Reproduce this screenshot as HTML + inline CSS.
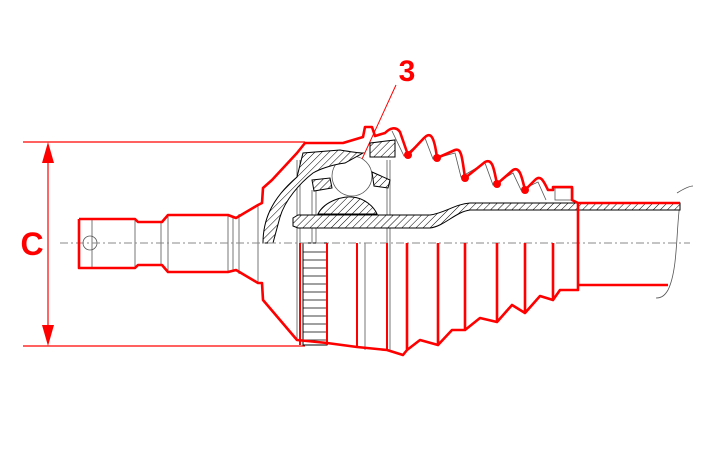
<!DOCTYPE html>
<html><head><meta charset="utf-8"><style>
html,body{margin:0;padding:0;background:#fff;}
svg{display:block;}
</style></head><body>
<svg width="705" height="470" viewBox="0 0 705 470" xmlns="http://www.w3.org/2000/svg">
<defs>
<pattern id="h" patternUnits="userSpaceOnUse" width="5" height="5" patternTransform="rotate(45)">
<rect width="5" height="5" fill="#fff"/><line x1="0" y1="0" x2="0" y2="5" stroke="#000" stroke-width="1"/>
</pattern>
</defs>
<g stroke="#f00" stroke-width="1.2" fill="none">
<line x1="23" y1="142" x2="305" y2="142"/>
<line x1="23" y1="346" x2="305" y2="346"/>
<line x1="48" y1="150" x2="48" y2="338"/>
</g>
<polygon points="48,142 42,163 54,163" fill="#f00"/>
<polygon points="48,346 42,325 54,325" fill="#f00"/>
<text x="32" y="255" font-family="Liberation Sans, sans-serif" font-weight="bold" font-size="32" fill="#f00" text-anchor="middle">C</text>
<text x="407" y="81" font-family="Liberation Sans, sans-serif" font-weight="bold" font-size="30" fill="#f00" text-anchor="middle">3</text>
<line x1="396" y1="85" x2="357" y2="170" stroke="#f00" stroke-width="1"/>

<g stroke="#555" stroke-width="0.8" fill="none">
<line x1="92" y1="220" x2="92" y2="267"/><line x1="135" y1="220" x2="135" y2="268"/>
<line x1="161" y1="223" x2="161" y2="265"/><line x1="168" y1="216" x2="168" y2="272"/>
<line x1="228" y1="216" x2="228" y2="272"/><line x1="233" y1="216" x2="233" y2="272"/>
<line x1="239" y1="214" x2="239" y2="274"/><line x1="258" y1="205" x2="258" y2="283"/>
<circle cx="90" cy="243" r="7"/>
<line x1="297" y1="160" x2="297" y2="340"/><line x1="300" y1="160" x2="300" y2="340"/>
<line x1="357" y1="243" x2="357" y2="347"/><line x1="365" y1="243" x2="365" y2="350"/>
<line x1="387" y1="160" x2="387" y2="350"/><line x1="390" y1="160" x2="390" y2="352"/>
<line x1="312" y1="190" x2="312" y2="243"/><line x1="316" y1="190" x2="316" y2="243"/>
<path d="M677,193 C685,188 690,186 693,186 M680,203 C676,230 678,270 668,290 C664,297 660,298 656,298"/>
<circle cx="352" cy="176" r="20" fill="#fff"/>
<rect x="555" y="188" width="18" height="12"/>
<path d="M392,131 L404,156 L425,138 L433,159 L455,153 L461,177 L485,163 L493,185 L513,173 L521,190 L538,182 L546,200"/>
</g>

<rect x="303" y="243" width="24" height="102" fill="#fff" stroke="#000" stroke-width="1"/>
<g stroke="#000" stroke-width="0.7">
<line x1="303" y1="252" x2="327" y2="252"/><line x1="303" y1="260" x2="327" y2="260"/><line x1="303" y1="268" x2="327" y2="268"/><line x1="303" y1="276" x2="327" y2="276"/><line x1="303" y1="284" x2="327" y2="284"/><line x1="303" y1="292" x2="327" y2="292"/><line x1="303" y1="300" x2="327" y2="300"/><line x1="303" y1="308" x2="327" y2="308"/><line x1="303" y1="316" x2="327" y2="316"/><line x1="303" y1="324" x2="327" y2="324"/><line x1="303" y1="332" x2="327" y2="332"/><line x1="303" y1="340" x2="327" y2="340"/>
</g>

<g fill="url(#h)" stroke="#000" stroke-width="1">
<path d="M263,243 C263,222 270,200 297,177 L303,153 L340,150 C352,152 358,153 363,153 L345,163 C330,165 318,170 313,173 C300,183 285,200 280,217 L273,243 Z"/>
<path d="M312,180 L330,178 L332,188 L314,191 Z"/>
<path d="M372,172 L390,180 L388,188 L374,186 Z"/>
<path d="M370,143 L395,140 L395,157 L370,157 Z"/>
<path d="M318,214 C325,200 345,196 352,197 C365,198 374,207 377,214 Z"/>
<path d="M293,218 L298,215 L430,215 C445,213 455,204 470,203 L680,203 L680,210 L470,210 C455,212 445,226 430,228 L298,228 L293,226 Z"/>
</g>

<line x1="60" y1="243" x2="690" y2="243" stroke="#888" stroke-width="1" stroke-dasharray="8,3,2,3"/>

<g stroke="#f00" stroke-width="2.6" fill="none" stroke-linejoin="round">
<path d="M79,219 L135,219 L138,222 L162,222 L168,215 L228,215 L236,218 L258,205 L262,203 L263,188 L272,180 L297,153 L305,143 L343,143 L363,137 L365,127 L372,127 L375,136 L385,133 C390,128 396,126 400,132 L408,155 L424,138 C430,132 434,134 437,158 L455,150 C461,148 462,155 465,178 L485,162 C493,158 494,170 497,184 L513,170 C520,166 522,178 525,190 L535,180 C541,174 544,182 548,190 L553,190 L553,187 L572,187 L572,200 L578,203 L680,203"/>
<path d="M79,219 L79,268 L135,268 L138,265 L162,265 L168,272 L228,272 L236,270 L258,283 L262,283 L263,300 L297,340 L327,343 L357,347 L387,350 L403,355 L407,350 L407,243"/>
<path d="M407,350 L420,340 L438,345 L438,243 M438,345 L452,330 L465,330 L465,243 M465,330 L480,318 L497,322 L497,243 M497,322 L512,305 L525,313 L525,243 M525,313 L540,296 L553,300 L553,243 M553,300 L560,290 L578,290 L578,203 M578,285 L668,285"/>
<path d="M300,345 L300,243" stroke-width="2"/>
<path d="M327,345 L327,243 M357,347 L357,243 M387,350 L387,243" stroke-width="2"/>
</g>
<g fill="#f00">
<circle cx="408" cy="155" r="4"/><circle cx="437" cy="158" r="4"/><circle cx="465" cy="178" r="4"/><circle cx="497" cy="184" r="4"/><circle cx="525" cy="190" r="4"/>
</g>
</svg>
</body></html>
